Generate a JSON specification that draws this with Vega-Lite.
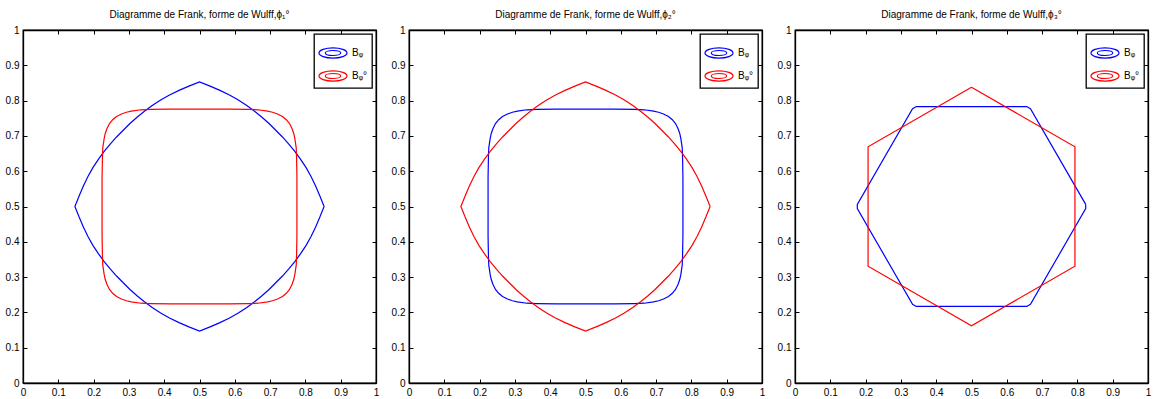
{
  "$schema": "https://vega.github.io/schema/vega-lite/v6.json",
  "padding": {"left": 4, "top": 9, "right": 2, "bottom": 2},
  "bounds": "flush",
  "spacing": 33,
  "datasets": {
    "pointy": [
      {"i":0,"x":0.853,"y":0.500},{"i":1,"x":0.841,"y":0.530},{"i":2,"x":0.829,"y":0.558},{"i":3,"x":0.816,"y":0.585},
      {"i":4,"x":0.802,"y":0.610},{"i":5,"x":0.786,"y":0.634},{"i":6,"x":0.770,"y":0.656},{"i":7,"x":0.753,"y":0.677},
      {"i":8,"x":0.735,"y":0.697},{"i":9,"x":0.716,"y":0.716},{"i":10,"x":0.697,"y":0.735},{"i":11,"x":0.677,"y":0.753},
      {"i":12,"x":0.656,"y":0.770},{"i":13,"x":0.634,"y":0.786},{"i":14,"x":0.610,"y":0.802},{"i":15,"x":0.585,"y":0.816},
      {"i":16,"x":0.558,"y":0.829},{"i":17,"x":0.530,"y":0.841},{"i":18,"x":0.500,"y":0.853},{"i":19,"x":0.470,"y":0.841},
      {"i":20,"x":0.442,"y":0.829},{"i":21,"x":0.415,"y":0.816},{"i":22,"x":0.390,"y":0.802},{"i":23,"x":0.366,"y":0.786},
      {"i":24,"x":0.344,"y":0.770},{"i":25,"x":0.323,"y":0.753},{"i":26,"x":0.303,"y":0.735},{"i":27,"x":0.284,"y":0.716},
      {"i":28,"x":0.265,"y":0.697},{"i":29,"x":0.247,"y":0.677},{"i":30,"x":0.230,"y":0.656},{"i":31,"x":0.214,"y":0.634},
      {"i":32,"x":0.198,"y":0.610},{"i":33,"x":0.184,"y":0.585},{"i":34,"x":0.171,"y":0.558},{"i":35,"x":0.159,"y":0.530},
      {"i":36,"x":0.147,"y":0.500},{"i":37,"x":0.159,"y":0.470},{"i":38,"x":0.171,"y":0.442},{"i":39,"x":0.184,"y":0.415},
      {"i":40,"x":0.198,"y":0.390},{"i":41,"x":0.214,"y":0.366},{"i":42,"x":0.230,"y":0.344},{"i":43,"x":0.247,"y":0.323},
      {"i":44,"x":0.265,"y":0.303},{"i":45,"x":0.284,"y":0.284},{"i":46,"x":0.303,"y":0.265},{"i":47,"x":0.323,"y":0.247},
      {"i":48,"x":0.344,"y":0.230},{"i":49,"x":0.366,"y":0.214},{"i":50,"x":0.390,"y":0.198},{"i":51,"x":0.415,"y":0.184},
      {"i":52,"x":0.442,"y":0.171},{"i":53,"x":0.470,"y":0.159},{"i":54,"x":0.500,"y":0.147},{"i":55,"x":0.530,"y":0.159},
      {"i":56,"x":0.558,"y":0.171},{"i":57,"x":0.585,"y":0.184},{"i":58,"x":0.610,"y":0.198},{"i":59,"x":0.634,"y":0.214},
      {"i":60,"x":0.656,"y":0.230},{"i":61,"x":0.677,"y":0.247},{"i":62,"x":0.697,"y":0.265},{"i":63,"x":0.716,"y":0.284},
      {"i":64,"x":0.735,"y":0.303},{"i":65,"x":0.753,"y":0.323},{"i":66,"x":0.770,"y":0.344},{"i":67,"x":0.786,"y":0.366},
      {"i":68,"x":0.802,"y":0.390},{"i":69,"x":0.816,"y":0.415},{"i":70,"x":0.829,"y":0.442},{"i":71,"x":0.841,"y":0.470},
      {"i":72,"x":0.853,"y":0.500}
    ],
    "square": [
      {"i":0,"x":0.776,"y":0.500},{"i":1,"x":0.776,"y":0.583},{"i":2,"x":0.775,"y":0.638},{"i":3,"x":0.774,"y":0.666},
      {"i":4,"x":0.770,"y":0.693},{"i":5,"x":0.767,"y":0.707},{"i":6,"x":0.762,"y":0.721},{"i":7,"x":0.755,"y":0.735},
      {"i":8,"x":0.746,"y":0.746},{"i":9,"x":0.735,"y":0.755},{"i":10,"x":0.721,"y":0.762},{"i":11,"x":0.707,"y":0.767},
      {"i":12,"x":0.693,"y":0.770},{"i":13,"x":0.666,"y":0.774},{"i":14,"x":0.638,"y":0.775},{"i":15,"x":0.583,"y":0.776},
      {"i":16,"x":0.500,"y":0.776},{"i":17,"x":0.417,"y":0.776},{"i":18,"x":0.362,"y":0.775},{"i":19,"x":0.334,"y":0.774},
      {"i":20,"x":0.307,"y":0.770},{"i":21,"x":0.293,"y":0.767},{"i":22,"x":0.279,"y":0.762},{"i":23,"x":0.265,"y":0.755},
      {"i":24,"x":0.254,"y":0.746},{"i":25,"x":0.245,"y":0.735},{"i":26,"x":0.238,"y":0.721},{"i":27,"x":0.233,"y":0.707},
      {"i":28,"x":0.230,"y":0.693},{"i":29,"x":0.226,"y":0.666},{"i":30,"x":0.225,"y":0.638},{"i":31,"x":0.224,"y":0.583},
      {"i":32,"x":0.224,"y":0.500},{"i":33,"x":0.224,"y":0.417},{"i":34,"x":0.225,"y":0.362},{"i":35,"x":0.226,"y":0.334},
      {"i":36,"x":0.230,"y":0.307},{"i":37,"x":0.233,"y":0.293},{"i":38,"x":0.238,"y":0.279},{"i":39,"x":0.245,"y":0.265},
      {"i":40,"x":0.254,"y":0.254},{"i":41,"x":0.265,"y":0.245},{"i":42,"x":0.279,"y":0.238},{"i":43,"x":0.293,"y":0.233},
      {"i":44,"x":0.307,"y":0.230},{"i":45,"x":0.334,"y":0.226},{"i":46,"x":0.362,"y":0.225},{"i":47,"x":0.417,"y":0.224},
      {"i":48,"x":0.500,"y":0.224},{"i":49,"x":0.583,"y":0.224},{"i":50,"x":0.638,"y":0.225},{"i":51,"x":0.666,"y":0.226},
      {"i":52,"x":0.693,"y":0.230},{"i":53,"x":0.707,"y":0.233},{"i":54,"x":0.721,"y":0.238},{"i":55,"x":0.735,"y":0.245},
      {"i":56,"x":0.746,"y":0.254},{"i":57,"x":0.755,"y":0.265},{"i":58,"x":0.762,"y":0.279},{"i":59,"x":0.767,"y":0.293},
      {"i":60,"x":0.770,"y":0.307},{"i":61,"x":0.774,"y":0.334},{"i":62,"x":0.775,"y":0.362},{"i":63,"x":0.776,"y":0.417},
      {"i":64,"x":0.776,"y":0.500}
    ],
    "hexBlue": [
      {"i":0,"x":0.8235,"y":0.506},{"i":1,"x":0.667,"y":0.777},{"i":2,"x":0.6565,"y":0.783},{"i":3,"x":0.3435,"y":0.783},
      {"i":4,"x":0.333,"y":0.777},{"i":5,"x":0.1765,"y":0.506},{"i":6,"x":0.1765,"y":0.494},{"i":7,"x":0.333,"y":0.223},
      {"i":8,"x":0.3435,"y":0.217},{"i":9,"x":0.6565,"y":0.217},{"i":10,"x":0.667,"y":0.223},{"i":11,"x":0.8235,"y":0.494},
      {"i":12,"x":0.8235,"y":0.506}
    ],
    "hexRed": [
      {"i":0,"x":0.5,"y":0.838},{"i":1,"x":0.793,"y":0.669},{"i":2,"x":0.793,"y":0.331},{"i":3,"x":0.5,"y":0.162},
      {"i":4,"x":0.207,"y":0.331},{"i":5,"x":0.207,"y":0.669},{"i":6,"x":0.5,"y":0.838}
    ]
  },
  "config": {
    "font": "Liberation Sans",
    "view": {"stroke": "black", "strokeWidth": 1.3},
    "line": {"strokeWidth": 1.2},
    "axis": {
      "grid": false,
      "domainColor": "black",
      "domainWidth": 1.3,
      "tickColor": "black",
      "tickSize": -4,
      "labelPadding": 8,
      "labelFont": "Liberation Sans",
      "labelFontSize": 10,
      "labelColor": "black",
      "labelFlush": false,
      "labelOverlap": false,
      "values": [0, 0.1, 0.2, 0.3, 0.4, 0.5, 0.6, 0.7, 0.8, 0.9, 1],
      "format": "~g"
    },
    "title": {"font": "Liberation Sans", "fontSize": 10, "fontWeight": "normal", "color": "black", "offset": 5, "anchor": "middle"},
    "legend": {
      "orient": "top-right",
      "offset": 4,
      "padding": 4,
      "fillColor": "white",
      "strokeColor": "black",
      "strokeWidth": 1.3,
      "symbolType": "M-1,0A1,0.36,0,1,1,1,0A1,0.36,0,1,1,-1,0M-0.55,0A0.55,0.18,0,1,1,0.55,0A0.55,0.18,0,1,1,-0.55,0",
      "symbolSize": 784,
      "symbolStrokeWidth": 1,
      "symbolFillColor": "transparent",
      "labelFont": "Liberation Sans, DejaVu Sans",
      "labelFontSize": 10,
      "labelColor": "black",
      "labelOffset": 4,
      "rowPadding": -11
    }
  },
  "resolve": {"scale": {"color": "independent"}, "legend": {"color": "independent"}},
  "hconcat": [
    {
      "width": 353, "height": 353,
      "title": "Diagramme de Frank, forme de Wulff,ϕ₁°",
      "resolve": {"axis": {"x": "independent", "y": "independent"}},
      "layer": [
        {"data": {"name": "pointy"}, "mark": "line",
         "encoding": {
           "x": {"field": "x", "type": "quantitative", "title": null, "scale": {"domain": [0, 1]}, "axis": {"orient": "bottom"}},
           "y": {"field": "y", "type": "quantitative", "title": null, "scale": {"domain": [0, 1]}, "axis": {"orient": "left"}},
           "order": {"field": "i"},
           "color": {"datum": "Bᵩ", "type": "nominal", "scale": {"domain": ["Bᵩ", "Bᵩ°"], "range": ["#0000ff", "#ff0000"]}, "legend": {"title": null}}
         }},
        {"data": {"name": "square"}, "mark": "line",
         "encoding": {
           "x": {"field": "x", "type": "quantitative", "title": null, "scale": {"domain": [0, 1]}, "axis": {"orient": "top", "labels": false}},
           "y": {"field": "y", "type": "quantitative", "title": null, "scale": {"domain": [0, 1]}, "axis": {"orient": "right", "labels": false}},
           "order": {"field": "i"},
           "color": {"datum": "Bᵩ°", "type": "nominal"}
         }}
      ]
    },
    {
      "width": 353, "height": 353,
      "title": "Diagramme de Frank, forme de Wulff,ϕ₂°",
      "resolve": {"axis": {"x": "independent", "y": "independent"}},
      "layer": [
        {"data": {"name": "square"}, "mark": "line",
         "encoding": {
           "x": {"field": "x", "type": "quantitative", "title": null, "scale": {"domain": [0, 1]}, "axis": {"orient": "bottom"}},
           "y": {"field": "y", "type": "quantitative", "title": null, "scale": {"domain": [0, 1]}, "axis": {"orient": "left"}},
           "order": {"field": "i"},
           "color": {"datum": "Bᵩ", "type": "nominal", "scale": {"domain": ["Bᵩ", "Bᵩ°"], "range": ["#0000ff", "#ff0000"]}, "legend": {"title": null}}
         }},
        {"data": {"name": "pointy"}, "mark": "line",
         "encoding": {
           "x": {"field": "x", "type": "quantitative", "title": null, "scale": {"domain": [0, 1]}, "axis": {"orient": "top", "labels": false}},
           "y": {"field": "y", "type": "quantitative", "title": null, "scale": {"domain": [0, 1]}, "axis": {"orient": "right", "labels": false}},
           "order": {"field": "i"},
           "color": {"datum": "Bᵩ°", "type": "nominal"}
         }}
      ]
    },
    {
      "width": 353, "height": 353,
      "title": "Diagramme de Frank, forme de Wulff,ϕ₃°",
      "resolve": {"axis": {"x": "independent", "y": "independent"}},
      "layer": [
        {"data": {"name": "hexBlue"}, "mark": "line",
         "encoding": {
           "x": {"field": "x", "type": "quantitative", "title": null, "scale": {"domain": [0, 1]}, "axis": {"orient": "bottom"}},
           "y": {"field": "y", "type": "quantitative", "title": null, "scale": {"domain": [0, 1]}, "axis": {"orient": "left"}},
           "order": {"field": "i"},
           "color": {"datum": "Bᵩ", "type": "nominal", "scale": {"domain": ["Bᵩ", "Bᵩ°"], "range": ["#0000ff", "#ff0000"]}, "legend": {"title": null}}
         }},
        {"data": {"name": "hexRed"}, "mark": "line",
         "encoding": {
           "x": {"field": "x", "type": "quantitative", "title": null, "scale": {"domain": [0, 1]}, "axis": {"orient": "top", "labels": false}},
           "y": {"field": "y", "type": "quantitative", "title": null, "scale": {"domain": [0, 1]}, "axis": {"orient": "right", "labels": false}},
           "order": {"field": "i"},
           "color": {"datum": "Bᵩ°", "type": "nominal"}
         }}
      ]
    }
  ]
}
